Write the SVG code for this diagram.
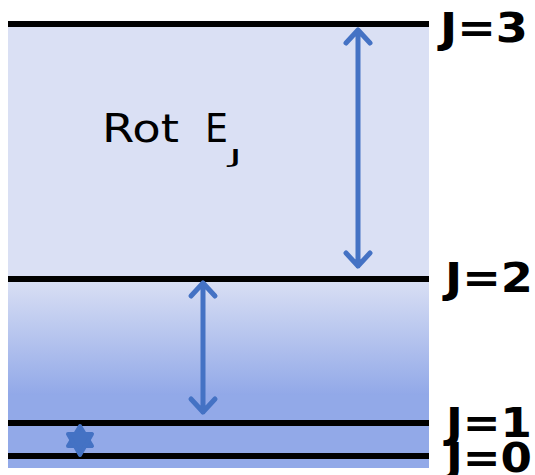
<svg xmlns="http://www.w3.org/2000/svg" width="535" height="475" viewBox="0 0 535 475">
<style>
.lvl{stroke:#000;stroke-width:6}
.arr{stroke:#4472c4;stroke-width:5;fill:none;stroke-linecap:round;stroke-linejoin:round}
.lab{font-family:"DejaVu Sans",Verdana,sans-serif;font-weight:bold;font-size:40px;fill:#000}
.rot{font-family:"DejaVu Sans",Verdana,sans-serif;fill:#000}
</style>
<defs>
<linearGradient id="g" x1="0" y1="0" x2="0" y2="1">
<stop offset="0" stop-color="#dae0f4"/>
<stop offset="1" stop-color="#91a8e8"/>
</linearGradient>
</defs>
<rect x="8" y="22" width="421" height="257" fill="#dae0f4"/>
<rect x="8" y="279" width="421" height="117" fill="url(#g)"/>
<rect x="8" y="395" width="421" height="73" fill="#92a9e8"/>
<g id="levels">
<line class="lvl" x1="8" y1="24" x2="429" y2="24"/>
<line class="lvl" x1="8" y1="279" x2="429" y2="279"/>
<line class="lvl" x1="8" y1="423" x2="429" y2="423"/>
<line class="lvl" x1="8" y1="456" x2="429" y2="456"/>
</g>
<g id="connectors">
<path class="arr" d="M358 30V266M346 43L358 30L370 43M346 253L358 266L370 253"/>
<path class="arr" d="M203 283V412M191 296L203 283L215 296M191 399L203 412L215 399"/>
</g>
<g id="particle" fill="#4472c4" stroke="#4472c4" stroke-width="4" stroke-linejoin="round">
<polygon points="80,426 92,446 68,446"/>
<polygon points="80,455 92,434 68,434"/>
</g>
<g id="label-rot">
<text class="rot" x="102" y="142" font-size="39" textLength="77" lengthAdjust="spacingAndGlyphs">Rot</text>
<text class="rot" x="205" y="142" font-size="39" textLength="23" lengthAdjust="spacingAndGlyphs">E</text>
<text class="rot" x="229" y="163" font-size="20" textLength="13" lengthAdjust="spacingAndGlyphs">J</text>
</g>
<text class="lab" x="440" y="42" textLength="88" lengthAdjust="spacingAndGlyphs">J=3</text>
<text class="lab" x="445" y="292" textLength="88" lengthAdjust="spacingAndGlyphs">J=2</text>
<text class="lab" x="446" y="437" font-size="37" textLength="86" lengthAdjust="spacingAndGlyphs">J=1</text>
<text class="lab" x="446" y="472" font-size="37" textLength="86" lengthAdjust="spacingAndGlyphs">J=0</text>
</svg>
